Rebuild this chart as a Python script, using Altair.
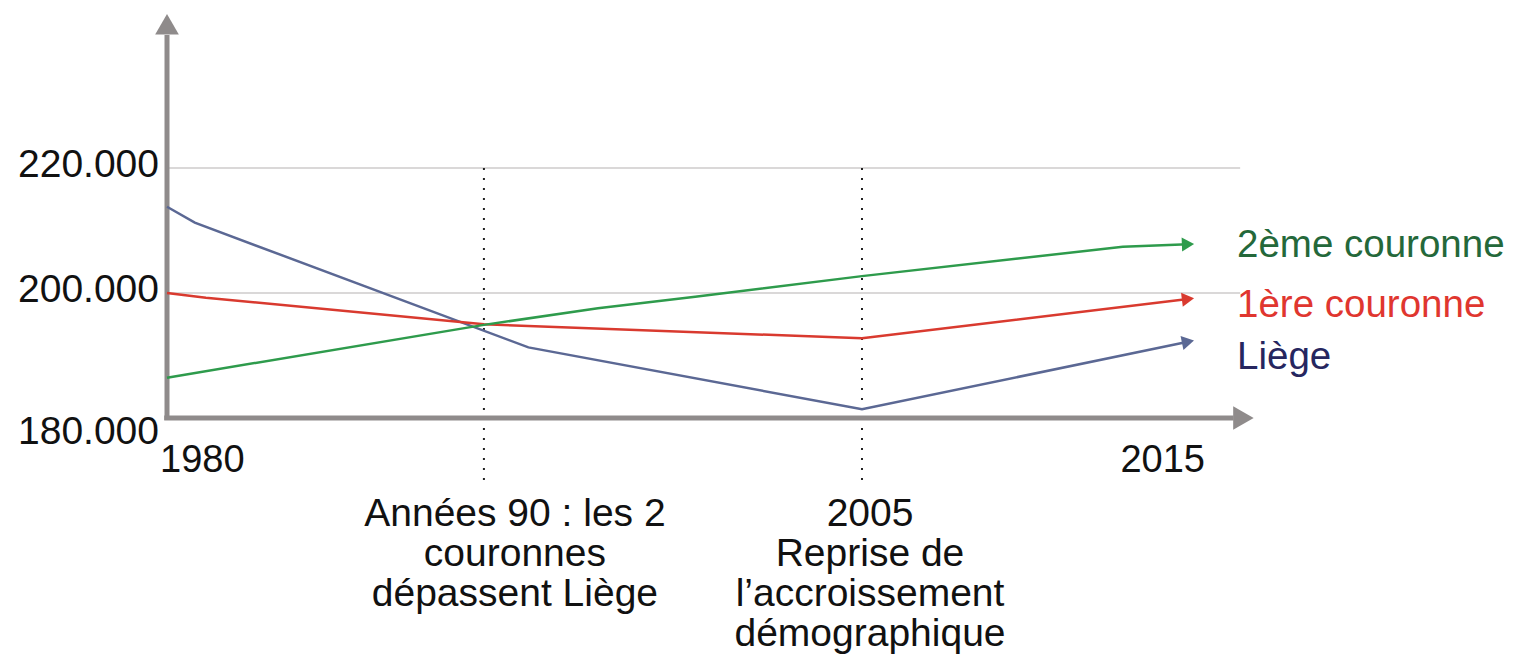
import math
import altair as alt
import pandas as pd

# ---- data ----
liege_years = [1980, 1981, 1993, 2005, 2015]
liege_vals = [213800, 211250, 191300, 181400, 192200]
first_years = [1980, 1981.4, 1991.4, 2005, 2015]
first_vals = [200000, 199250, 195000, 192750, 199050]
second_years = [1980, 1991.4, 1995.5, 1999, 2005, 2013, 2015]
second_vals = [186450, 194900, 197550, 199400, 202700, 207400, 207800]

series_names = ["Liège", "1ère couronne", "2ème couronne"]
series_colors = ["#5b6894", "#d93a2f", "#2e9b4c"]
label_colors = ["#26265f", "#e0362f", "#24683a"]

y_tick_values = [180000, 200000, 220000]
y_tick_labels = ["180.000", "200.000", "220.000"]
grid_values = [200000, 220000]
x_label_years = [1980, 2015]
x_label_texts = ["1980", "2015"]
event_years = [1991.4, 2005]
event_texts = [
    "Années 90 : les 2\ncouronnes\ndépassent Liège",
    "2005\nReprise de\nl\u2019accroissement\ndémographique",
]
y_axis_top = 241300
x_axis_end = 2016.4
grid_end = 2016.6
event_line_bottom = 168800

FONT = "Liberation Sans"
AXIS_GREY = "#8f8b8b"

X = alt.Scale(domain=[1980, 2005, 2015], range=[159, 854, 1180], zero=False, nice=False)
Y = alt.Scale(domain=[180000, 220000], range=[410, 160], zero=False, nice=False)

rows = []
for name, ys, vs in zip(series_names, [liege_years, first_years, second_years],
                        [liege_vals, first_vals, second_vals]):
    for i, (yr, v) in enumerate(zip(ys, vs)):
        rows.append({"series": name, "year": yr, "value": v, "i": i})
lines_df = pd.DataFrame(rows)

# arrow heads at series ends, oriented along last segment
px_per_year = (1180 - 854) / 10
px_per_unit = 250 / 40000
heads = []
for name, ys, vs in zip(series_names, [liege_years, first_years, second_years],
                        [liege_vals, first_vals, second_vals]):
    dx = (ys[-1] - ys[-2]) * px_per_year
    dy = -(vs[-1] - vs[-2]) * px_per_unit
    ang = math.degrees(math.atan2(dy, dx)) % 360
    heads.append({"series": name, "year": ys[-1], "value": vs[-1], "angle": ang})
heads_df = pd.DataFrame(heads)

color = alt.Color("series:N", scale=alt.Scale(domain=series_names, range=series_colors), legend=None)

lines = alt.Chart(lines_df).mark_line(strokeWidth=2.5).encode(
    x=alt.X("year:Q", scale=X, axis=None),
    y=alt.Y("value:Q", scale=Y, axis=None),
    color=color,
    order="i:Q",
)
arrowheads = alt.Chart(heads_df).mark_point(shape="triangle-right", filled=True, size=200, opacity=1).encode(
    x=alt.X("year:Q", scale=X, axis=None),
    y=alt.Y("value:Q", scale=Y, axis=None),
    color=color,
    angle=alt.Angle("angle:Q", scale=None),
)

# gridlines
grid_df = pd.DataFrame({"y": grid_values, "x": [1980] * len(grid_values), "x2": [grid_end] * len(grid_values)})
grid = alt.Chart(grid_df).mark_rule(color="#b5b1b1", strokeWidth=1).encode(
    x=alt.X("x:Q", scale=X, axis=None), x2="x2:Q", y=alt.Y("y:Q", scale=Y, axis=None)
)

# event dotted lines
ev_df = pd.DataFrame({"x": event_years, "y": [220000] * 2, "y2": [event_line_bottom] * 2})
event_rules = alt.Chart(ev_df).mark_rule(color="#222222", strokeWidth=2, strokeDash=[2, 8]).encode(
    x=alt.X("x:Q", scale=X, axis=None), y=alt.Y("y:Q", scale=Y, axis=None), y2="y2:Q"
)

# axes
yaxis = alt.Chart(pd.DataFrame({"x": [1980], "y": [179700], "y2": [y_axis_top]})).mark_rule(
    color=AXIS_GREY, strokeWidth=5).encode(
    x=alt.X("x:Q", scale=X, axis=None), y=alt.Y("y:Q", scale=Y, axis=None), y2="y2:Q")
xaxis = alt.Chart(pd.DataFrame({"x": [1979.9], "x2": [x_axis_end], "y": [180000]})).mark_rule(
    color=AXIS_GREY, strokeWidth=5).encode(
    x=alt.X("x:Q", scale=X, axis=None), x2="x2:Q", y=alt.Y("y:Q", scale=Y, axis=None))
yhead = alt.Chart(pd.DataFrame({"x": [1980], "y": [243000]})).mark_point(
    shape="triangle-up", filled=True, size=560, color=AXIS_GREY, opacity=1).encode(
    x=alt.X("x:Q", scale=X, axis=None), y=alt.Y("y:Q", scale=Y, axis=None))
xhead = alt.Chart(pd.DataFrame({"x": [2016.7], "y": [180000]})).mark_point(
    shape="triangle-right", filled=True, size=560, color=AXIS_GREY, opacity=1).encode(
    x=alt.X("x:Q", scale=X, axis=None), y=alt.Y("y:Q", scale=Y, axis=None))

# y labels
ylab_df = pd.DataFrame({"x": [1980] * 3, "y": y_tick_values, "t": y_tick_labels})
ylab_top = alt.Chart(ylab_df.iloc[1:]).mark_text(
    align="right", baseline="middle", dx=-8, dy=-3, fontSize=39, font=FONT, color="#111111").encode(
    x=alt.X("x:Q", scale=X, axis=None), y=alt.Y("y:Q", scale=Y, axis=None), text="t:N")
ylab_bottom = alt.Chart(ylab_df.iloc[:1]).mark_text(
    align="right", baseline="middle", dx=-8, dy=14, fontSize=39, font=FONT, color="#111111").encode(
    x=alt.X("x:Q", scale=X, axis=None), y=alt.Y("y:Q", scale=Y, axis=None), text="t:N")

# x labels
xl1 = alt.Chart(pd.DataFrame({"x": [x_label_years[0]], "y": [180000], "t": [x_label_texts[0]]})).mark_text(
    align="left", baseline="middle", dx=-7, dy=43, fontSize=38, font=FONT, color="#111111").encode(
    x=alt.X("x:Q", scale=X, axis=None), y=alt.Y("y:Q", scale=Y, axis=None), text="t:N")
xl2 = alt.Chart(pd.DataFrame({"x": [x_label_years[1]], "y": [180000], "t": [x_label_texts[1]]})).mark_text(
    align="right", baseline="middle", dx=17, dy=43, fontSize=38, font=FONT, color="#111111").encode(
    x=alt.X("x:Q", scale=X, axis=None), y=alt.Y("y:Q", scale=Y, axis=None), text="t:N")

# event labels
ev_labels = []
for yr, txt, dx in zip(event_years, event_texts, [31, 8]):
    ev_labels.append(
        alt.Chart(pd.DataFrame({"x": [yr], "y": [180000], "t": [txt]})).mark_text(
            align="center", baseline="alphabetic", lineBreak="\n", lineHeight=40,
            dx=dx, dy=108, fontSize=39, font=FONT, color="#111111").encode(
            x=alt.X("x:Q", scale=X, axis=None), y=alt.Y("y:Q", scale=Y, axis=None), text="t:N")
    )

# series labels at right
series_labels = []
for name, col, dy, (yr, v) in zip(series_names, label_colors, [15, 6, 1],
                                   [(liege_years[-1], liege_vals[-1]),
                                    (first_years[-1], first_vals[-1]),
                                    (second_years[-1], second_vals[-1])]):
    series_labels.append(
        alt.Chart(pd.DataFrame({"x": [yr], "y": [v], "t": [name]})).mark_text(
            align="left", baseline="middle", dx=49, dy=dy, fontSize=38.5, font=FONT, color=col).encode(
            x=alt.X("x:Q", scale=X, axis=None), y=alt.Y("y:Q", scale=Y, axis=None), text="t:N")
    )

chart = alt.layer(
    grid, event_rules, yaxis, xaxis, yhead, xhead, lines, arrowheads,
    ylab_top, ylab_bottom, xl1, xl2, *ev_labels, *series_labels,
).properties(
    width=1499, height=648, autosize=alt.AutoSizeParams(type="none"), padding=0,
    background="white",
).configure_view(stroke=None, strokeWidth=0)

chart.save("out.html", embed_options={"renderer": "svg", "actions": False})
